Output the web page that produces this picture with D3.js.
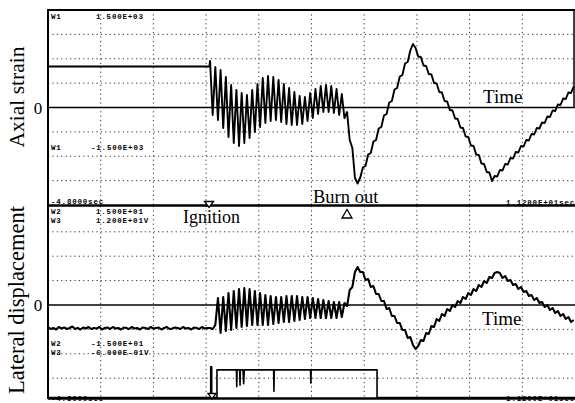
<!DOCTYPE html>
<html><head><meta charset="utf-8">
<script src="https://cdn.jsdelivr.net/npm/d3@7"></script>
<style>
html,body{margin:0;padding:0;background:#fff;}
svg{display:block;}
</style></head><body>
<svg id="c" width="575" height="403"></svg>
<script>
// ---------------- DATA ----------------
// time axis: -4.8 s .. 11.2 s, 10 divisions of 1.6 s
const timeStart = -4.8, timeEnd = 11.2, timeDiv = 1.6;
// axial strain (micro-strain), lateral displacement (mm), trigger (V)
const strainRange = [-1950, 1950];
const lateralRange = [-9.4, 9.9];
const triggerRange = [-0.6, 12];
const strainGrid = [-1462.5, -975, -487.5, 487.5, 975, 1462.5];
const lateralGrid = [-7.32, -4.88, -2.44, 2.44, 4.88, 7.32];

// before ignition
const strainPreT = [-4.8, 0.1];
const strainPre = [820, 820];
const lateralPreT0 = -4.8, lateralPreDt = 0.082;
const lateralPre = [-2.2,-2.4,-2.3,-2.45,-2.2,-2.35,-2.25,-2.4,-2.3,-2.15,-2.4,-2.3,-2.45,-2.25,-2.35,-2.2,-2.4,-2.3,-2.35,-2.2,
  -2.45,-2.3,-2.25,-2.4,-2.2,-2.35,-2.3,-2.45,-2.25,-2.3,-2.4,-2.2,-2.35,-2.3,-2.45,-2.25,-2.3,-2.4,-2.2,-2.35,
  -2.3,-2.25,-2.45,-2.3,-2.2,-2.4,-2.35,-2.25,-2.3,-2.4,-2.2,-2.35,-2.3,-2.45,-2.25,-2.3,-2.4,-2.2,-2.35,-2.3,-2.3];

// after ignition: samples at t = postT0 + i*postDt
const postT0 = 0.12, postDt = 0.08;
const strainPost = [930,-150,810,-250,750,-410,610,-590,450,-710,
  350,-770,290,-710,250,-610,350,-490,470,-390,
  590,-310,630,-270,610,-250,550,-290,470,-330,
  390,-350,310,-350,230,-330,210,-270,290,-210,
  370,-130,430,-90,450,-90,430,-110,370,-150,
  270,-210,-90,-650,-810,-1410,-1520,-1400,-1200,-1170,
  -940,-910,-680,-650,-420,-390,-160,-130,100,130,
  360,390,620,650,880,910,1140,1270,1190,1020,
  1010,840,830,670,660,490,480,310,300,130,
  120,-50,-60,-220,-230,-400,-410,-580,-590,-760,
  -770,-940,-950,-1120,-1130,-1290,-1300,-1470,-1370,-1380,
  -1250,-1260,-1130,-1140,-1010,-1020,-890,-900,-770,-780,
  -650,-660,-530,-540,-410,-420,-300,-310,-180,-190,
  -60,-70,60,50,180,170,300,290,420];
const lateralPost = [-2.3,-2.4,-2.0,0.7,-2.8,0.8,-2.6,1.2,-2.5,1.4,
  -2.3,1.6,-2.2,1.7,-2.1,1.6,-2.0,1.4,-2.0,1.2,
  -2.0,1.0,-2.0,0.9,-1.9,0.8,-1.8,0.8,-1.7,0.9,
  -1.7,0.9,-1.6,0.9,-1.5,0.8,-1.4,0.8,-1.3,0.7,
  -1.3,0.6,-1.3,0.5,-1.3,0.4,-1.3,0.3,-1.3,0.3,
  -1.2,0.2,-0.1,1.5,1.8,3.3,3.8,3.3,3.3,2.5,
  2.6,1.8,1.9,1.1,1.1,0.4,0.4,-0.4,-0.3,-1.1,
  -1.1,-1.8,-1.8,-2.5,-2.5,-3.3,-3.2,-4.0,-4.4,-4.1,
  -3.5,-3.6,-2.8,-2.9,-2.1,-2.2,-1.4,-1.6,-0.9,-1.1,
  -0.4,-0.6,0.0,-0.2,0.4,0.2,0.8,0.6,1.2,1.0,
  1.6,1.4,2.0,1.8,2.4,2.2,2.8,2.7,3.2,3.3,
  3.2,2.7,2.9,2.4,2.5,2.0,2.1,1.6,1.8,1.3,
  1.4,0.9,1.0,0.5,0.7,0.2,0.3,-0.2,0.0,-0.5,
  -0.3,-0.8,-0.6,-1.1,-0.9,-1.4,-1.2,-1.7,-1.5];
// trigger / burn signal (W3)
const triggerT = [-4.8,0.14,0.14,0.17,0.17,0.33,0.33,0.92,0.93,0.94,1.02,1.03,1.04,1.12,1.14,1.16,2.05,2.06,2.07,3.17,3.18,3.19,5.19,5.19,11.2];
const triggerV = [-0.5,-0.5,1.5,1.5,-0.5,-0.5,1.3,1.3,0.2,1.3,1.3,0.3,1.3,1.3,0.4,1.3,1.3,-0.1,1.3,1.3,0.45,1.3,1.3,-0.5,-0.5];

// labels
const yLabels = ["Axial strain", "Lateral displacement"];
const zeroLabel = "0";
const timeLabel = "Time";
const ignitionLabel = "Ignition", burnoutLabel = "Burn out";
const scopeTop = [["W1", "1.500E+03"], ["W1", "-1.500E+03"]];
const scopeBottom = [["W2", "1.500E+01"], ["W3", "1.200E+01V"], ["W2", "-1.500E+01"], ["W3", "-6.000E-01V"]];
const timeStartLabel = "-4.8000sec", timeEndLabel = "1.1200E+01sec";

// ---------------- DRAW ----------------
const svg = d3.select("#c");
const L = 48, R = 575;
const topY = [10, 205], botY = [206, 399];
const x = d3.scaleLinear().domain([timeStart, timeEnd]).range([L, R]);
const yS = d3.scaleLinear().domain(strainRange).range([topY[1], topY[0]]);
const yL = d3.scaleLinear().domain(lateralRange).range([botY[1], botY[0]]);
const yT = d3.scaleLinear().domain(triggerRange).range([botY[1], botY[0]]);

const serif = "'Liberation Serif','Times New Roman',serif";
const mono = "'Liberation Mono','DejaVu Sans Mono',monospace";

// grid
const gridX = d3.range(1, 10).map(k => timeStart + k * timeDiv);
const g = svg.append("g").attr("stroke", "#333").attr("stroke-width", 1).attr("stroke-dasharray", "1.2 3.2");
[topY, botY].forEach(yy => {
  g.selectAll(null).data(gridX).enter().append("line")
    .attr("x1", d => x(d)).attr("x2", d => x(d)).attr("y1", yy[0]).attr("y2", yy[1]);
});
g.selectAll(null).data(strainGrid).enter().append("line")
  .attr("x1", L).attr("x2", R).attr("y1", d => yS(d)).attr("y2", d => yS(d));
g.selectAll(null).data(lateralGrid).enter().append("line")
  .attr("x1", L).attr("x2", R).attr("y1", d => yL(d)).attr("y2", d => yL(d));

// zero lines
svg.append("line").attr("x1", L).attr("x2", R).attr("y1", yS(0)).attr("y2", yS(0)).attr("stroke", "#000").attr("stroke-width", 1.5);
svg.append("line").attr("x1", L).attr("x2", R).attr("y1", yL(0)).attr("y2", yL(0)).attr("stroke", "#000").attr("stroke-width", 1.5);

// frame
const fr = svg.append("g").attr("stroke", "#000");
fr.append("line").attr("x1", L - 1).attr("x2", R).attr("y1", topY[0]).attr("y2", topY[0]).attr("stroke-width", 2);
fr.append("line").attr("x1", L).attr("x2", L).attr("y1", topY[0]).attr("y2", botY[1]).attr("stroke-width", 2);
fr.append("line").attr("x1", R - 1).attr("x2", R - 1).attr("y1", topY[0]).attr("y2", yS(0)).attr("stroke-width", 1.5);
fr.append("line").attr("x1", L).attr("x2", R).attr("y1", 205.5).attr("y2", 205.5).attr("stroke-width", 2.5);
fr.append("line").attr("x1", L).attr("x2", R).attr("y1", 398.5).attr("y2", 398.5).attr("stroke-width", 2.5);

// signals
svg.append("clipPath").attr("id", "cl").append("rect").attr("x", L).attr("y", 0).attr("width", R - L).attr("height", 403);
const sig = svg.append("g").attr("clip-path", "url(#cl)").attr("fill", "none").attr("stroke", "#000").attr("stroke-linejoin", "round");

const strainPts = strainPreT.map((t, i) => [t, strainPre[i]])
  .concat(strainPost.map((v, i) => [postT0 + i * postDt, v]));
sig.append("path").attr("stroke-width", 1.9)
  .attr("d", d3.line().x(d => x(d[0])).y(d => yS(d[1]))(strainPts));

const latPts = lateralPre.map((v, i) => [lateralPreT0 + i * lateralPreDt, v])
  .concat(lateralPost.map((v, i) => [postT0 + i * postDt, v]));
sig.append("path").attr("stroke-width", 2.1)
  .attr("d", d3.line().x(d => x(d[0])).y(d => yL(d[1]))(latPts));

const trigPts = triggerT.map((t, i) => [t, triggerV[i]]);
sig.append("path").attr("stroke-width", 1.6)
  .attr("d", d3.line().x(d => x(d[0])).y(d => yT(d[1]))(trigPts));

// markers
const tri = svg.append("g").attr("fill", "#fff").attr("stroke", "#000").attr("stroke-width", 1.3);
tri.append("path").attr("d", "M204.5,201.5 L213.5,201.5 L209,207.5 Z");
tri.append("path").attr("d", "M342,218 L352,218 L347,209.5 Z");
tri.append("path").attr("d", "M208,393.5 L216,393.5 L212,399 Z");

// serif labels
const tx = svg.append("g").attr("font-family", serif).attr("fill", "#000");
tx.append("text").attr("transform", "translate(24,97) rotate(-90)").attr("text-anchor", "middle").attr("font-size", 21.5).text(yLabels[0]);
tx.append("text").attr("transform", "translate(24,300) rotate(-90)").attr("text-anchor", "middle").attr("font-size", 22.5).text(yLabels[1]);
tx.append("text").attr("x", 38).attr("y", yS(0) + 6).attr("text-anchor", "middle").attr("font-size", 17).text(zeroLabel);
tx.append("text").attr("x", 38).attr("y", yL(0) + 6).attr("text-anchor", "middle").attr("font-size", 17).text(zeroLabel);
tx.append("text").attr("x", 483).attr("y", 103).attr("font-size", 19).text(timeLabel);
tx.append("text").attr("x", 482).attr("y", 325).attr("font-size", 19).text(timeLabel);
tx.append("text").attr("x", 313).attr("y", 203).attr("font-size", 18.5).text(burnoutLabel);
tx.append("text").attr("x", 183).attr("y", 223).attr("font-size", 18).text(ignitionLabel);

// scope annotations
const mt = svg.append("g").attr("font-family", mono).attr("font-weight", "bold").attr("font-size", 7.5)
  .attr("letter-spacing", 0.8).attr("fill", "#000");
const rowsTop = [18.5, 150];
scopeTop.forEach((r, i) => {
  mt.append("text").attr("x", 51).attr("y", rowsTop[i]).text(r[0]);
  mt.append("text").attr("x", r[1][0] === "-" ? 91 : 96).attr("y", rowsTop[i]).text(r[1]);
});
const rowsBot = [214, 223, 346, 355];
scopeBottom.forEach((r, i) => {
  mt.append("text").attr("x", 51).attr("y", rowsBot[i]).text(r[0]);
  mt.append("text").attr("x", r[1][0] === "-" ? 91 : 96).attr("y", rowsBot[i]).text(r[1]);
});
mt.append("text").attr("x", 51).attr("y", 204).text(timeStartLabel);
mt.append("text").attr("x", 51).attr("y", 401).text(timeStartLabel);
mt.append("text").attr("x", 575).attr("y", 205).attr("text-anchor", "end").text(timeEndLabel);
mt.append("text").attr("x", 575).attr("y", 401).attr("text-anchor", "end").text(timeEndLabel);
</script>
</body></html>
